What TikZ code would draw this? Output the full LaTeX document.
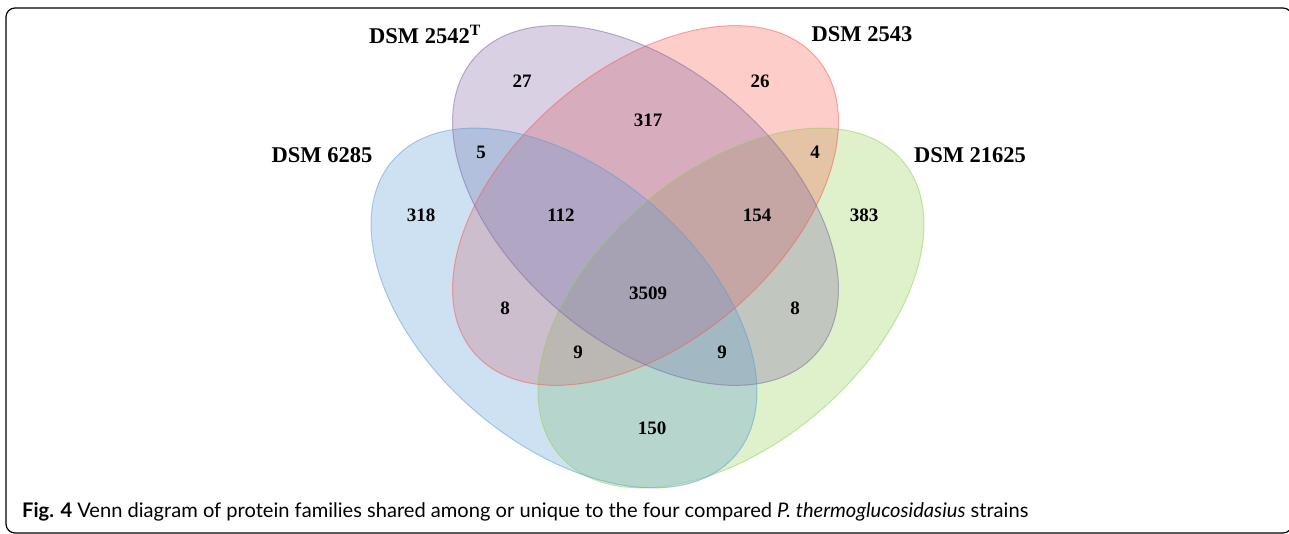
\documentclass[tikz,border=0pt]{standalone}
\usepackage{fontspec}
\setmainfont{Liberation Serif}
\newfontfamily\capfont{Lato}
\definecolor{blueset}{RGB}{91,155,213}
\definecolor{purpleset}{RGB}{128,100,162}
\definecolor{redset}{RGB}{248,90,80}
\definecolor{greenset}{RGB}{146,208,80}
\tikzset{
  setfill/.style={fill=#1, fill opacity=0.3},
  setline/.style={draw=#1, draw opacity=0.5, line width=1pt},
  strain/.style={font=\fontsize{22.5}{24}\selectfont\bfseries, inner sep=0pt},
  count/.style={font=\fontsize{19}{20}\selectfont\bfseries, inner sep=0pt}
}
\begin{document}
\begin{tikzpicture}[x=1pt, y=-1pt]
    \useasboundingbox (0,0) rectangle (1289,534);
    \draw[line width=1.2pt, rounded corners=9pt] (6,8) rectangle (1292,533);
    % the four sets
    \fill[setfill=greenset, rotate around={40.7:(731,308)}] (731,308) ellipse [x radius=226pt, y radius=136pt];
    \fill[setfill=redset, rotate around={40.7:(645.5,205.5)}] (645.5,205.5) ellipse [x radius=226pt, y radius=136pt];
    \fill[setfill=purpleset, rotate around={-40.7:(645.5,205.5)}] (645.5,205.5) ellipse [x radius=226pt, y radius=136pt];
    \fill[setfill=blueset, rotate around={-40.7:(564,308)}] (564,308) ellipse [x radius=226pt, y radius=136pt];
    \draw[setline=greenset, rotate around={40.7:(731,308)}] (731,308) ellipse [x radius=226pt, y radius=136pt];
    \draw[setline=redset, rotate around={40.7:(645.5,205.5)}] (645.5,205.5) ellipse [x radius=226pt, y radius=136pt];
    \draw[setline=purpleset, rotate around={-40.7:(645.5,205.5)}] (645.5,205.5) ellipse [x radius=226pt, y radius=136pt];
    \draw[setline=blueset, rotate around={-40.7:(564,308)}] (564,308) ellipse [x radius=226pt, y radius=136pt];
    % strain names
    \node[strain] (s6285) at (322,155) {DSM 6285};
    \node[strain] (s2542) at (425,34.5) {DSM 2542\textsuperscript{T}};
    \node[strain] (s2543) at (862,34.5) {DSM 2543};
    \node[strain] (s21625) at (970,155) {DSM 21625};
    % region counts
    \node[count] (n27) at (522,81) {27};
    \node[count] (n26) at (760,81) {26};
    \node[count] (n317) at (648,120) {317};
    \node[count] (n5) at (481,152) {5};
    \node[count] (n4) at (815,152) {4};
    \node[count] (n318) at (421,215) {318};
    \node[count] (n112) at (561,215) {112};
    \node[count] (n154) at (757,215) {154};
    \node[count] (n383) at (864,215) {383};
    \node[count] (n3509) at (648,293) {3509};
    \node[count] (n8a) at (505,308) {8};
    \node[count] (n8b) at (795,308) {8};
    \node[count] (n9a) at (578,352) {9};
    \node[count] (n9b) at (722,352) {9};
    \node[count] (n150) at (652,428) {150};
    % caption
    \node[anchor=west, inner sep=0pt, font=\capfont\fontsize{20.1}{22}\selectfont] (caption) at (22,512)
      {\textbf{Fig. 4} Venn diagram of protein families shared among or unique to the four compared \textit{P. thermoglucosidasius} strains};
  \end{tikzpicture}
\end{document}
